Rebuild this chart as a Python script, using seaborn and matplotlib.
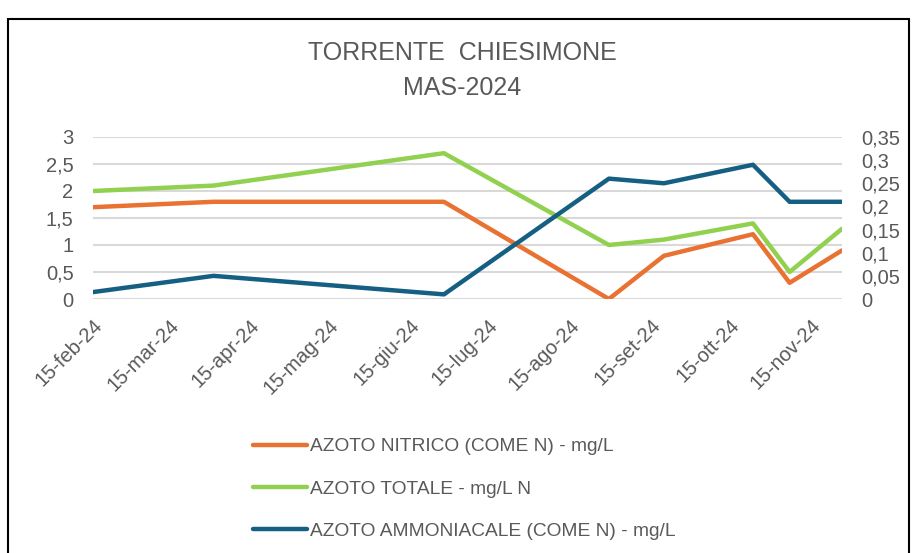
import pandas as pd
import matplotlib.pyplot as plt
from matplotlib.patches import Rectangle
from matplotlib.ticker import FuncFormatter
from matplotlib.transforms import ScaledTranslation
import seaborn as sns

# dati
date = ['2024-02-15', '2024-04-01', '2024-06-28', '2024-08-30',
        '2024-09-20', '2024-10-24', '2024-11-07', '2024-11-27']
nitrico = [1.7, 1.8, 1.8, 0.0, 0.8, 1.2, 0.3, 0.9]
totale = [2.0, 2.1, 2.7, 1.0, 1.1, 1.4, 0.5, 1.3]
ammoniacale = [0.015, 0.05, 0.01, 0.26, 0.25, 0.29, 0.21, 0.21]

tick_date = ['2024-02-15', '2024-03-15', '2024-04-15', '2024-05-15', '2024-06-15',
             '2024-07-15', '2024-08-15', '2024-09-15', '2024-10-15', '2024-11-15']
tick_labels = ['15-feb-24', '15-mar-24', '15-apr-24', '15-mag-24', '15-giu-24',
               '15-lug-24', '15-ago-24', '15-set-24', '15-ott-24', '15-nov-24']

nomi = ['AZOTO NITRICO (COME N) - mg/L', 'AZOTO TOTALE - mg/L N',
        'AZOTO AMMONIACALE (COME N) - mg/L']
colori = ['#E97132', '#92D050', '#156082']

df = pd.DataFrame({'data': pd.to_datetime(date), 'nitrico': nitrico,
                   'totale': totale, 'ammoniacale': ammoniacale})

sns.set_style('white')
plt.rcParams['font.family'] = ['Liberation Sans', 'DejaVu Sans']
grigio = '#595959'

fig = plt.figure(figsize=(9.14, 5.53), dpi=100)
ax = fig.add_axes([0.1018, 0.4593, 0.8194, 0.293])
ax2 = ax.twinx()

sns.lineplot(data=df, x='data', y='nitrico', ax=ax, color=colori[0], lw=3.2, label=nomi[0], legend=False)
sns.lineplot(data=df, x='data', y='totale', ax=ax, color=colori[1], lw=3.2, label=nomi[1], legend=False)
sns.lineplot(data=df, x='data', y='ammoniacale', ax=ax2, color=colori[2], lw=3.2, label=nomi[2], legend=False)

fmt = FuncFormatter(lambda v, p: f'{v:g}'.replace('.', ','))
ax.set_ylim(0, 3)
ax.set_yticks([0, 0.5, 1, 1.5, 2, 2.5, 3])
ax.yaxis.set_major_formatter(fmt)
ax2.set_ylim(0, 0.35)
ax2.set_yticks([0, 0.05, 0.1, 0.15, 0.2, 0.25, 0.3, 0.35])
ax2.yaxis.set_major_formatter(fmt)

ax.set_xlim(df['data'].min(), df['data'].max())
ax.set_xticks(pd.to_datetime(tick_date))
ax.set_xticklabels(tick_labels, rotation=45, ha='right', rotation_mode='anchor')
sposta = ScaledTranslation(-5 / 100, 0, fig.dpi_scale_trans)
for t in ax.get_xticklabels():
    t.set_transform(t.get_transform() + sposta)

ax.grid(axis='y', color='#d9d9d9', lw=1.5)
ax.set_axisbelow(True)
for a in (ax, ax2):
    for s in a.spines.values():
        s.set_visible(False)
    a.set_xlabel('')
    a.set_ylabel('')
ax.tick_params(axis='y', length=0, pad=14, labelsize=14.5, labelcolor=grigio)
ax2.tick_params(axis='y', length=0, pad=14, labelsize=14.5, labelcolor=grigio)
ax.tick_params(axis='x', length=0, pad=12, labelsize=14.5, labelcolor=grigio)

fig.text(0.506, 0.905, 'TORRENTE  CHIESIMONE', ha='center', va='center', fontsize=18,
         color=grigio)
fig.text(0.506, 0.84, 'MAS-2024', ha='center', va='center', fontsize=18,
         color=grigio)

h1, l1 = ax.get_legend_handles_labels()
h2, l2 = ax2.get_legend_handles_labels()
fig.legend(h1 + h2, l1 + l2, loc='upper left', bbox_to_anchor=(0.277, 0.208),
           frameon=False, fontsize=13.8, labelcolor=grigio, handlelength=2.8,
           handletextpad=0.15, labelspacing=1.3, borderpad=0, borderaxespad=0)

fig.patches.append(Rectangle((0.009, -0.05), 0.986, 1.015, transform=fig.transFigure,
                             fill=False, edgecolor='black', lw=1.5))

fig.savefig('out.png', dpi=100)
